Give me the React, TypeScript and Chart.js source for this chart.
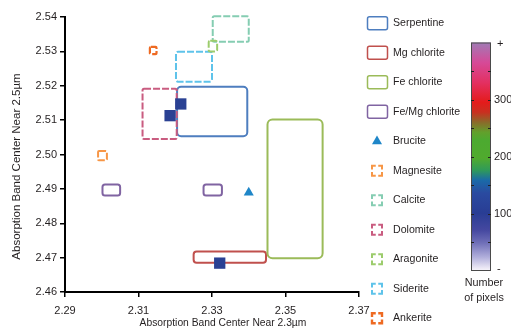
import React, { useEffect, useRef } from 'react';
import { Chart, registerables } from 'chart.js';

Chart.register(...registerables);

// ---------- data ----------
const X_TICKS = [2.29, 2.31, 2.33, 2.35, 2.37];
const Y_TICKS = [2.46, 2.47, 2.48, 2.49, 2.5, 2.51, 2.52, 2.53, 2.54];

const MINERALS = [
  'Serpentine', 'Mg chlorite', 'Fe chlorite', 'Fe/Mg chlorite', 'Brucite',
  'Magnesite', 'Calcite', 'Dolomite', 'Aragonite', 'Siderite', 'Ankerite',
];

// Reference fields of each mineral: [xMin, xMax, yMin, yMax] (band centres in µm)
const serpentineField = [2.3205, 2.3396, 2.5053, 2.5197];
const mgChloriteField = [2.325, 2.3447, 2.4685, 2.4718];
const feChloriteField = [2.3451, 2.3601, 2.4698, 2.5102];
const feMgChloriteField1 = [2.3002, 2.305, 2.4881, 2.4913];
const feMgChloriteField2 = [2.3277, 2.3327, 2.4881, 2.4913];
const magnesiteField = [2.299, 2.3014, 2.4983, 2.501];
const calciteField = [2.3302, 2.34, 2.5328, 2.5402];
const dolomiteField = [2.3111, 2.3204, 2.5045, 2.5191];
const aragoniteField = [2.3291, 2.3314, 2.53, 2.5331];
const sideriteField = [2.3202, 2.33, 2.5212, 2.5299];
const ankeriteField = [2.3131, 2.3149, 2.5292, 2.5313];

const bruciteX = [2.34];
const bruciteY = [2.4889];

// observed pixel clusters
const pixelsX = [2.3186, 2.3215, 2.3321];
const pixelsY = [2.5113, 2.5147, 2.4684];

// colour bar (number of pixels)
const CB_MIN = 0;
const CB_MAX = 400;
const CB_LABEL_VALUES = [0, 100, 200, 300, 400];
const CB_LABELS = ['-', '100', '200', '300', '+'];
const CB_MINOR_VALUES = [50, 100, 150, 200, 250, 300, 350];

// ---------- styles ----------
const FONT = '"Liberation Sans", Arial, sans-serif';
const TEXT = '#231f20';

const FIELDS = [
  { name: 'Serpentine', box: serpentineField, color: '#4e7ebf', dashed: false, r: 4, w: 2 },
  { name: 'Mg chlorite', box: mgChloriteField, color: '#c0504d', dashed: false, r: 3, w: 2 },
  { name: 'Fe chlorite', box: feChloriteField, color: '#9bbb59', dashed: false, r: 5, w: 2 },
  { name: 'Fe/Mg chlorite', box: feMgChloriteField1, color: '#8064a2', dashed: false, r: 2.5, w: 2 },
  { name: 'Fe/Mg chlorite', box: feMgChloriteField2, color: '#8064a2', dashed: false, r: 2.5, w: 2 },
  { name: 'Dolomite', box: dolomiteField, color: '#c95c80', dashed: true, r: 1.5, w: 2 },
  { name: 'Siderite', box: sideriteField, color: '#5ec3ea', dashed: true, r: 2, w: 2 },
  { name: 'Calcite', box: calciteField, color: '#85cdb2', dashed: true, r: 1.5, w: 2 },
  { name: 'Aragonite', box: aragoniteField, color: '#9ccc6c', dashed: true, r: 1.5, w: 2 },
  { name: 'Magnesite', box: magnesiteField, color: '#f79646', dashed: true, r: 1, w: 2 },
  { name: 'Ankerite', box: ankeriteField, color: '#ee6a22', dashed: true, r: 1, w: 2.2 },
];

const LEGEND_STYLE: Record<string, { color: string; kind: 'box' | 'tri' | 'dash' }> = {
  'Serpentine': { color: '#4e7ebf', kind: 'box' },
  'Mg chlorite': { color: '#c0504d', kind: 'box' },
  'Fe chlorite': { color: '#9bbb59', kind: 'box' },
  'Fe/Mg chlorite': { color: '#8064a2', kind: 'box' },
  'Brucite': { color: '#1f86c8', kind: 'tri' },
  'Magnesite': { color: '#f79646', kind: 'dash' },
  'Calcite': { color: '#85cdb2', kind: 'dash' },
  'Dolomite': { color: '#c95c80', kind: 'dash' },
  'Aragonite': { color: '#9ccc6c', kind: 'dash' },
  'Siderite': { color: '#5ec3ea', kind: 'dash' },
  'Ankerite': { color: '#ee6a22', kind: 'dash' },
};

const CB_STOPS: [number, string][] = [
  [0, '#f8f6fc'],
  [0.013, '#ece8f5'],
  [0.061, '#b0aedb'],
  [0.122, '#7070b8'],
  [0.179, '#4548a0'],
  [0.253, '#293d94'],
  [0.34, '#2a4aa0'],
  [0.397, '#1a6aa8'],
  [0.441, '#2f9a5a'],
  [0.493, '#50aa2e'],
  [0.572, '#4caa30'],
  [0.607, '#62a02c'],
  [0.651, '#8a6a2a'],
  [0.694, '#c83020'],
  [0.738, '#e41b1b'],
  [0.825, '#e33062'],
  [0.913, '#d64a98'],
  [1, '#a07bb5'],
];

function dashedSquare(ctx: CanvasRenderingContext2D, cx: number, cy: number, s: number, color: string, w: number) {
  const l = cx - s / 2, t = cy - s / 2;
  const gap = 2.5;
  const start = s / 2 + gap / 2;
  ctx.save();
  ctx.strokeStyle = color;
  ctx.lineWidth = w;
  ctx.setLineDash([s - gap, gap]);
  ctx.beginPath();
  ctx.moveTo(l + start, t);
  ctx.lineTo(l + s, t);
  ctx.lineTo(l + s, t + s);
  ctx.lineTo(l, t + s);
  ctx.lineTo(l, t);
  ctx.lineTo(l + start, t);
  ctx.stroke();
  ctx.restore();
}

const mineralPlugin = {
  id: 'mineralFields',
  beforeDatasetsDraw(chart: any) {
    const { ctx, scales } = chart;
    const xs = scales.x, ys = scales.y;
    ctx.save();
    for (const f of FIELDS) {
      const [x0, x1, y0, y1] = f.box;
      const px0 = xs.getPixelForValue(x0);
      const px1 = xs.getPixelForValue(x1);
      const py0 = ys.getPixelForValue(y1);
      const py1 = ys.getPixelForValue(y0);
      ctx.strokeStyle = f.color;
      ctx.lineWidth = f.w;
      ctx.setLineDash(f.dashed ? [7, 2] : []);
      ctx.beginPath();
      (ctx as any).roundRect(px0, py0, px1 - px0, py1 - py0, f.r);
      ctx.stroke();
    }
    ctx.restore();
  },
  afterDraw(chart: any) {
    const { ctx, chartArea } = chart;
    ctx.save();
    ctx.setLineDash([]);
    // axis titles
    ctx.fillStyle = TEXT;
    ctx.textAlign = 'center';
    ctx.textBaseline = 'middle';
    ctx.font = `10.3px ${FONT}`;
    ctx.fillText('Absorption Band Center Near 2.3µm', (chartArea.left + chartArea.right) / 2 + 11, chartArea.bottom + 31);
    ctx.save();
    ctx.font = `11.5px ${FONT}`;
    ctx.translate(17, (chartArea.top + chartArea.bottom) / 2 + 12);
    ctx.rotate(-Math.PI / 2);
    ctx.fillText('Absorption Band Center Near 2.5µm', 0, 0);
    ctx.restore();

    // legend
    const iconX = chartArea.right + 8;
    const labelX = chartArea.right + 34;
    MINERALS.forEach((name, i) => {
      const cy = 23.3 + i * 29.5;
      const st = LEGEND_STYLE[name];
      if (st.kind === 'box') {
        ctx.strokeStyle = st.color;
        ctx.lineWidth = 1.5;
        ctx.beginPath();
        (ctx as any).roundRect(iconX + 0.5, cy - 6.5, 20, 13, 2);
        ctx.stroke();
      } else if (st.kind === 'tri') {
        const cx = iconX + 10, r = 5.8;
        ctx.fillStyle = st.color;
        ctx.beginPath();
        ctx.moveTo(cx, cy - r);
        ctx.lineTo(cx + r * 0.866, cy + r * 0.5);
        ctx.lineTo(cx - r * 0.866, cy + r * 0.5);
        ctx.closePath();
        ctx.fill();
      } else {
        dashedSquare(ctx, iconX + 10, cy, 10, st.color, name === 'Ankerite' ? 2.4 : 2);
      }
      ctx.fillStyle = TEXT;
      ctx.font = `10.6px ${FONT}`;
      ctx.textAlign = 'left';
      ctx.textBaseline = 'middle';
      ctx.fillText(name, labelX, cy);
    });

    // colour bar
    const cbL = chartArea.right + 112, cbW = 20;
    const cbT = 42.5, cbB = 271;
    const vy = (v: number) => cbB - ((v - CB_MIN) / (CB_MAX - CB_MIN)) * (cbB - cbT);
    const g = ctx.createLinearGradient(0, cbB, 0, cbT);
    CB_STOPS.forEach(([o, c]) => g.addColorStop(o, c));
    ctx.fillStyle = g;
    ctx.fillRect(cbL, cbT, cbW, cbB - cbT);
    ctx.strokeStyle = '#4a4a4a';
    ctx.lineWidth = 1;
    ctx.strokeRect(cbL + 0.5, cbT + 0.5, cbW - 1, cbB - cbT - 1);
    ctx.strokeStyle = '#222';
    ctx.lineWidth = 1;
    CB_MINOR_VALUES.forEach(v => {
      const y = Math.round(vy(v)) + 0.5;
      ctx.beginPath();
      ctx.moveTo(cbL, y); ctx.lineTo(cbL + 3, y);
      ctx.moveTo(cbL + cbW - 3, y); ctx.lineTo(cbL + cbW, y);
      ctx.stroke();
    });
    ctx.fillStyle = TEXT;
    ctx.font = `11px ${FONT}`;
    ctx.textAlign = 'left';
    ctx.textBaseline = 'middle';
    CB_LABEL_VALUES.forEach((v, i) => {
      const lab = CB_LABELS[i];
      let y = vy(v);
      if (lab === '+') y += 1;
      if (lab === '-') y -= 2;
      ctx.fillText(lab, cbL + cbW + (lab.length === 1 ? 6 : 3), y);
    });
    ctx.textAlign = 'center';
    ctx.font = `10.8px ${FONT}`;
    ctx.fillText('Number', cbL + cbW / 2 + 3, 283);
    ctx.fillText('of pixels', cbL + cbW / 2 + 3, 298);
    ctx.restore();
  },
};

export default function App() {
  const ref = useRef<HTMLCanvasElement | null>(null);
  useEffect(() => {
    if (!ref.current) return;
    const tickFont = { family: FONT, size: 11 };
    const chart = new Chart(ref.current, {
      type: 'scatter',
      data: {
        datasets: [
          {
            label: 'Pixels',
            data: pixelsX.map((x, i) => ({ x, y: pixelsY[i] })),
            pointStyle: 'rect',
            pointRadius: 8,
            pointBorderWidth: 0,
            backgroundColor: '#2a4193',
            borderColor: '#2a4193',
          },
          {
            label: 'Brucite',
            data: bruciteX.map((x, i) => ({ x, y: bruciteY[i] })),
            pointStyle: 'triangle',
            pointRadius: 5.8,
            pointBorderWidth: 0,
            backgroundColor: '#1f86c8',
            borderColor: '#1f86c8',
          },
        ],
      },
      options: {
        animation: false,
        responsive: false,
        devicePixelRatio: 1,
        layout: { padding: { left: 0, top: 17, right: 152, bottom: 0 } },
        plugins: { legend: { display: false }, tooltip: { enabled: false } },
        scales: {
          x: {
            type: 'linear',
            min: 2.29,
            max: 2.37,
            afterBuildTicks: (s: any) => { s.ticks = X_TICKS.map(v => ({ value: v })); },
            afterFit: (s: any) => { s.height = 38; },
            ticks: {
              callback: (v: any) => Number(v).toFixed(2),
              font: tickFont,
              color: TEXT,
              padding: 7,
              maxRotation: 0,
              autoSkip: false,
            },
            grid: { display: true, drawOnChartArea: false, drawTicks: true, tickLength: 5, color: '#000', lineWidth: 1.5 },
            border: { display: true, color: '#000', width: 2 },
          },
          y: {
            type: 'linear',
            min: 2.46,
            max: 2.54,
            afterBuildTicks: (s: any) => { s.ticks = Y_TICKS.map(v => ({ value: v })); },
            afterFit: (s: any) => { s.width = 65; },
            ticks: {
              callback: (v: any) => Number(v).toFixed(2),
              font: tickFont,
              color: TEXT,
              padding: 3,
              autoSkip: false,
            },
            grid: { display: true, drawOnChartArea: false, drawTicks: true, tickLength: 5, color: '#000', lineWidth: 1.5 },
            border: { display: true, color: '#000', width: 2 },
          },
        },
      },
      plugins: [mineralPlugin],
    } as any);
    return () => chart.destroy();
  }, []);
  return (
    <div style={{ position: 'absolute', left: 0, top: 0, width: 511, height: 330, background: '#fff' }}>
      <canvas ref={ref} width={511} height={330} style={{ display: 'block' }} />
    </div>
  );
}
